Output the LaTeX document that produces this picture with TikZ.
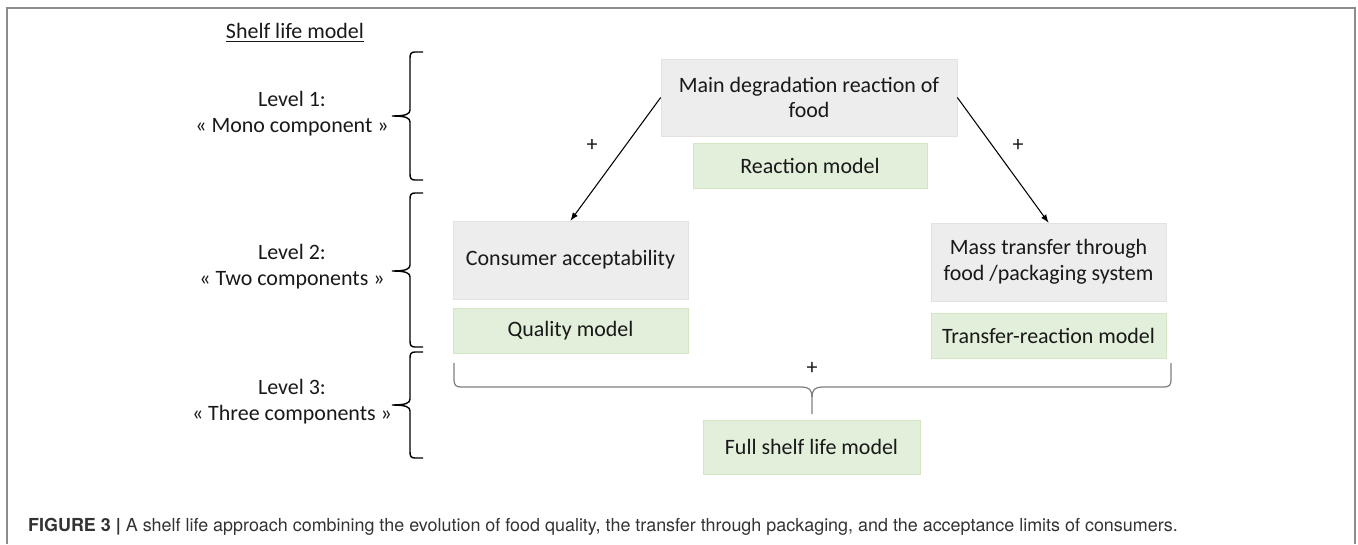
\documentclass[tikz,border=0pt]{standalone}
\usepackage{fontspec}
\setmainfont{Carlito}
\newfontfamily\capfont{TeX Gyre Heros}

\definecolor{boxgray}{HTML}{EDEDED}
\definecolor{edgegray}{HTML}{E2E2E2}
\definecolor{boxgreen}{HTML}{E2EFDA}
\definecolor{edgegreen}{HTML}{D2E6C4}
\definecolor{framegray}{HTML}{8C8C8C}
\definecolor{bracegray}{HTML}{808080}
\definecolor{capgray}{HTML}{333333}

\tikzset{
    graybox/.style={fill=boxgray, draw=edgegray, line width=0.4pt, inner sep=0pt, align=center},
    greenbox/.style={fill=boxgreen, draw=edgegreen, line width=0.4pt, inner sep=0pt, align=center},
}

\begin{document}
\begin{tikzpicture}[x=0.02cm, y=-0.02cm, font=\fontsize{12.5}{14.7}\selectfont, text=black!90]

% Page size (pixel grid of the figure)
\useasboundingbox (0,0) rectangle (1358,544);

% Frame round the figure
\draw[framegray, line width=0.8pt] (7,544) -- (7,8) -- (1355,8) -- (1355,544);

% Title and level labels
\node (title) at (295,33) {\underline{Shelf life model}};
\node[align=center] (lvl1) at (292,114) {Level 1:\\« Mono component »};
\node[align=center] (lvl2) at (292,266.5) {Level 2:\\« Two components »};
\node[align=center] (lvl3) at (292,402) {Level 3:\\« Three components »};

% Braces of the levels (top/tip/bottom)
\foreach \ytop/\ymid/\ybot in {52/116/180, 193/271/347, 352/405/458} {
    \draw[line width=0.8pt] (423,\ytop) -- (415,\ytop)
        .. controls (411,\ytop) and (410,\ytop+2) .. (410,\ytop+6) -- (410,\ymid-6)
        .. controls (410,\ymid-2) and (406,\ymid) .. (392,\ymid)
        .. controls (406,\ymid) and (410,\ymid+2) .. (410,\ymid+6) -- (410,\ybot-6)
        .. controls (410,\ybot-2) and (411,\ybot) .. (415,\ybot) -- (423,\ybot);
}

% Level 1
\node[graybox, minimum width=5.92cm, minimum height=1.54cm] (main) at (809,97.5) {Main degradation reaction of\\food};
\node[greenbox, minimum width=4.68cm, minimum height=0.9cm] (react) at (810,165.5) {Reaction model};

% Level 2
\node[graybox, minimum width=4.7cm, minimum height=1.56cm] (cons) at (570.5,260) {Consumer acceptability};
\node[greenbox, minimum width=4.7cm, minimum height=0.9cm] (quality) at (570.5,330.5) {Quality model};
\node[graybox, minimum width=4.7cm, minimum height=1.56cm] (mass) at (1048.5,262) {Mass transfer through\\food /packaging system};
\node[greenbox, minimum width=4.7cm, minimum height=0.9cm] (trans) at (1048.5,335.5) {Transfer-reaction model};

% Arrows and signs
\draw[-latex, line width=0.6pt] (main.west) -- (cons.north);
\draw[-latex, line width=0.6pt] (main.east) -- (mass.north);
\node (plusl) at (592,145) {+};
\node (plusr) at (1018,145) {+};

% Level 3
\node (plusb) at (812,368) {+};
\draw[bracegray, line width=0.7pt] (454,363) -- (454,380)
    .. controls (454,385) and (456,387) .. (461,387) -- (802,387)
    .. controls (809,387) and (812,390) .. (812,397) -- (812,414);
\draw[bracegray, line width=0.7pt] (812,397)
    .. controls (812,390) and (815,387) .. (822,387) -- (1164,387)
    .. controls (1169,387) and (1171,385) .. (1171,380) -- (1171,363);
\node[greenbox, minimum width=4.34cm, minimum height=1.08cm] (full) at (811.5,447) {Full shelf life model};

% Caption
\node[anchor=base west, font=\capfont\fontsize{10.2}{11}\selectfont, text=capgray] (caption) at (22,531)
    {\textbf{FIGURE 3 |} A shelf life approach combining the evolution of food quality, the transfer through packaging, and the acceptance limits of consumers.};

\end{tikzpicture}
\end{document}
